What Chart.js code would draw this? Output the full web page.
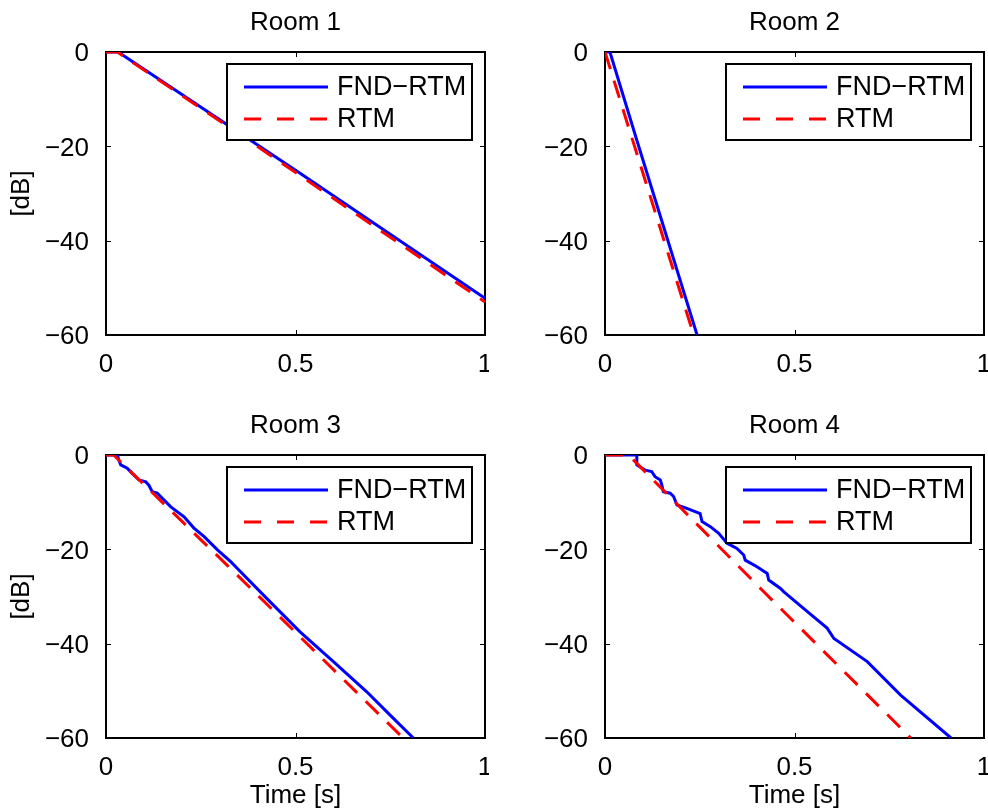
<!DOCTYPE html>
<html>
<head>
<meta charset="utf-8">
<script src="https://cdn.jsdelivr.net/npm/chart.js@4/dist/chart.umd.min.js"></script>
<style>
  body { margin: 0; background: #fff; overflow: hidden; }
  canvas { position: absolute; }
</style>
</head>
<body>
<canvas id="room1" width="489" height="408" style="left:0px;top:0px"></canvas>
<canvas id="room2" width="489" height="408" style="left:499px;top:0px"></canvas>
<canvas id="room3" width="489" height="408" style="left:0px;top:403px"></canvas>
<canvas id="room4" width="489" height="408" style="left:499px;top:403px"></canvas>
<script>
// tick labels and names
const xTicks = [0, 0.5, 1];
const yTicks = [-60, -40, -20, 0];
const roomTitles = ['Room 1', 'Room 2', 'Room 3', 'Room 4'];
const seriesNames = ['FND\u2212RTM', 'RTM'];

// Room 1 (time in s, level in dB)
const room1FndT = [0, 0.032, 0.512, 1.0];
const room1FndDb = [0, 0, -25.7, -52.2];
const room1RtmT = [0, 0.03, 0.35, 1.0];
const room1RtmDb = [0, 0, -17.3, -53.0];

// Room 2
const room2FndT = [0, 0.013, 0.084, 0.243];
const room2FndDb = [0, 0, -18.7, -60];
const room2RtmT = [0, 0.234];
const room2RtmDb = [0, -60];

// Room 3
const room3FndT = [0, 0.030, 0.034, 0.039, 0.056, 0.069, 0.087, 0.105, 0.113, 0.122, 0.135, 0.171, 0.206, 0.232, 0.259, 0.294, 0.329, 0.346, 0.424, 0.512, 0.600, 0.688, 0.749, 0.811];
const room3FndDb = [0, 0, -1.1, -2.1, -2.8, -3.9, -5.3, -5.7, -6.4, -7.8, -8.1, -11.0, -13.1, -15.5, -17.3, -20.1, -22.6, -24.0, -30.4, -37.5, -43.8, -50.2, -55.1, -60];
const room3RtmT = [0, 0.02, 0.32, 0.784];
const room3RtmDb = [0, 0, -23.4, -60];

// Room 4
const room4FndT = [0, 0.084, 0.084, 0.106, 0.123, 0.132, 0.146, 0.150, 0.154, 0.172, 0.181, 0.190, 0.216, 0.251, 0.256, 0.278, 0.300, 0.322, 0.348, 0.366, 0.370, 0.401, 0.428, 0.432, 0.463, 0.472, 0.534, 0.586, 0.604, 0.692, 0.780, 0.913];
const room4FndDb = [0, 0, -2.1, -3.2, -3.5, -4.6, -5.3, -6.4, -7.8, -8.1, -8.8, -10.6, -11.3, -12.4, -14.1, -15.2, -16.6, -18.7, -19.8, -21.2, -22.3, -23.7, -25.1, -26.5, -28.3, -29.0, -33.2, -36.7, -38.9, -43.8, -50.9, -60];
const room4RtmT = [0, 0.062, 0.419, 0.807];
const room4RtmDb = [0, 0, -29.0, -60];

Chart.defaults.font.family = "'Liberation Sans', Arial, Helvetica, sans-serif";
Chart.defaults.font.size = 26;
Chart.defaults.color = '#000';

// MATLAB style numbers use a real minus sign
function fmt(v) {
  if (v === 0) return '0';
  return v < 0 ? '\u2212' + Math.abs(v) : String(v);
}

// frame with inward ticks, title and legend box
const matlabBox = {
  id: 'matlabBox',
  beforeDatasetsDraw(chart, args, opts) {
    const {ctx, chartArea: a, scales} = chart;
    ctx.save();
    ctx.strokeStyle = '#000';
    ctx.lineWidth = 1;
    xTicks.forEach(v => {
      const px = Math.round(scales.x.getPixelForValue(v)) + 0.5;
      ctx.beginPath();
      ctx.moveTo(px, a.bottom); ctx.lineTo(px, a.bottom - 5);
      ctx.moveTo(px, a.top); ctx.lineTo(px, a.top + 5);
      ctx.stroke();
    });
    yTicks.forEach(v => {
      const py = Math.round(scales.y.getPixelForValue(v)) + 0.5;
      ctx.beginPath();
      ctx.moveTo(a.left, py); ctx.lineTo(a.left + 5, py);
      ctx.moveTo(a.right, py); ctx.lineTo(a.right - 5, py);
      ctx.stroke();
    });
    ctx.lineWidth = 2;
    ctx.strokeRect(a.left, a.top, a.right - a.left, a.bottom - a.top);
    ctx.restore();
  },
  afterDatasetsDraw(chart, args, opts) {
    const {ctx, chartArea: a} = chart;
    ctx.save();
    // title
    ctx.fillStyle = '#000';
    ctx.font = "26px 'Liberation Sans', Arial, sans-serif";
    ctx.textAlign = 'center';
    ctx.textBaseline = 'alphabetic';
    ctx.fillText(opts.title, (a.left + a.right) / 2, 30);

    // legend
    const w = 245, h = 76;
    const lx = a.right - 13 - w, ly = a.top + 12;
    ctx.fillStyle = '#fff';
    ctx.fillRect(lx, ly, w, h);
    ctx.strokeStyle = '#000';
    ctx.lineWidth = 2;
    ctx.strokeRect(lx, ly, w, h);
    const rows = [ly + 23, ly + 55];
    ctx.font = "27px 'Liberation Sans', Arial, sans-serif";
    chart.data.datasets.forEach((ds, i) => {
      ctx.beginPath();
      ctx.strokeStyle = ds.borderColor;
      ctx.lineWidth = ds.borderWidth;
      ctx.setLineDash(i === 1 ? [17, 16] : []);
      ctx.moveTo(lx + 17, rows[i]);
      ctx.lineTo(lx + 101, rows[i]);
      ctx.stroke();
      ctx.setLineDash([]);
      ctx.fillStyle = '#000';
      ctx.textAlign = 'left';
      ctx.textBaseline = 'middle';
      ctx.fillText(ds.label, lx + 110, rows[i] + 1);
    });
    ctx.restore();
  }
};

function makeChart(id, title, fndT, fndDb, rtmT, rtmDb, showY, showX) {
  const ctx = document.getElementById(id).getContext('2d');
  return new Chart(ctx, {
    type: 'line',
    data: {
      datasets: [{
        label: seriesNames[0],
        data: fndT.map((t, i) => ({x: t, y: fndDb[i]})),
        borderColor: '#0000ff',
        borderWidth: 3,
        pointRadius: 0,
        tension: 0,
        order: 2
      }, {
        label: seriesNames[1],
        data: rtmT.map((t, i) => ({x: t, y: rtmDb[i]})),
        borderColor: '#ff0000',
        borderWidth: 3,
        borderDash: [18, 12],
        pointRadius: 0,
        tension: 0,
        order: 1
      }]
    },
    options: {
      responsive: false,
      animation: false,
      devicePixelRatio: 1,
      layout: { padding: { top: 52, right: 4, left: 0, bottom: 0 } },
      scales: {
        x: {
          type: 'linear',
          min: 0,
          max: 1,
          afterBuildTicks: s => { s.ticks = xTicks.map(v => ({value: v})); },
          afterFit: s => { s.height = 73; s.paddingLeft = 0; s.paddingRight = 0; },
          ticks: { padding: 6, maxRotation: 0, autoSkip: false, callback: v => fmt(v) },
          grid: { display: false },
          border: { display: false },
          title: { display: showX, text: 'Time [s]', padding: { top: 0, bottom: 0 } }
        },
        y: {
          type: 'linear',
          min: -60,
          max: 0,
          afterBuildTicks: s => { s.ticks = yTicks.map(v => ({value: v})); },
          afterFit: s => { s.width = 106; s.paddingTop = 0; s.paddingBottom = 0; },
          ticks: { padding: 9, labelOffset: 2, autoSkip: false, callback: v => fmt(v) },
          grid: { display: false },
          border: { display: false },
          title: { display: showY, text: '[dB]', padding: { top: 6, bottom: 0 } }
        }
      },
      plugins: {
        legend: { display: false },
        tooltip: { enabled: false },
        matlabBox: { title: title }
      }
    },
    plugins: [matlabBox]
  });
}

makeChart('room1', roomTitles[0], room1FndT, room1FndDb, room1RtmT, room1RtmDb, true, false);
makeChart('room2', roomTitles[1], room2FndT, room2FndDb, room2RtmT, room2RtmDb, false, false);
makeChart('room3', roomTitles[2], room3FndT, room3FndDb, room3RtmT, room3RtmDb, true, true);
makeChart('room4', roomTitles[3], room4FndT, room4FndDb, room4RtmT, room4RtmDb, false, true);
</script>
</body>
</html>
